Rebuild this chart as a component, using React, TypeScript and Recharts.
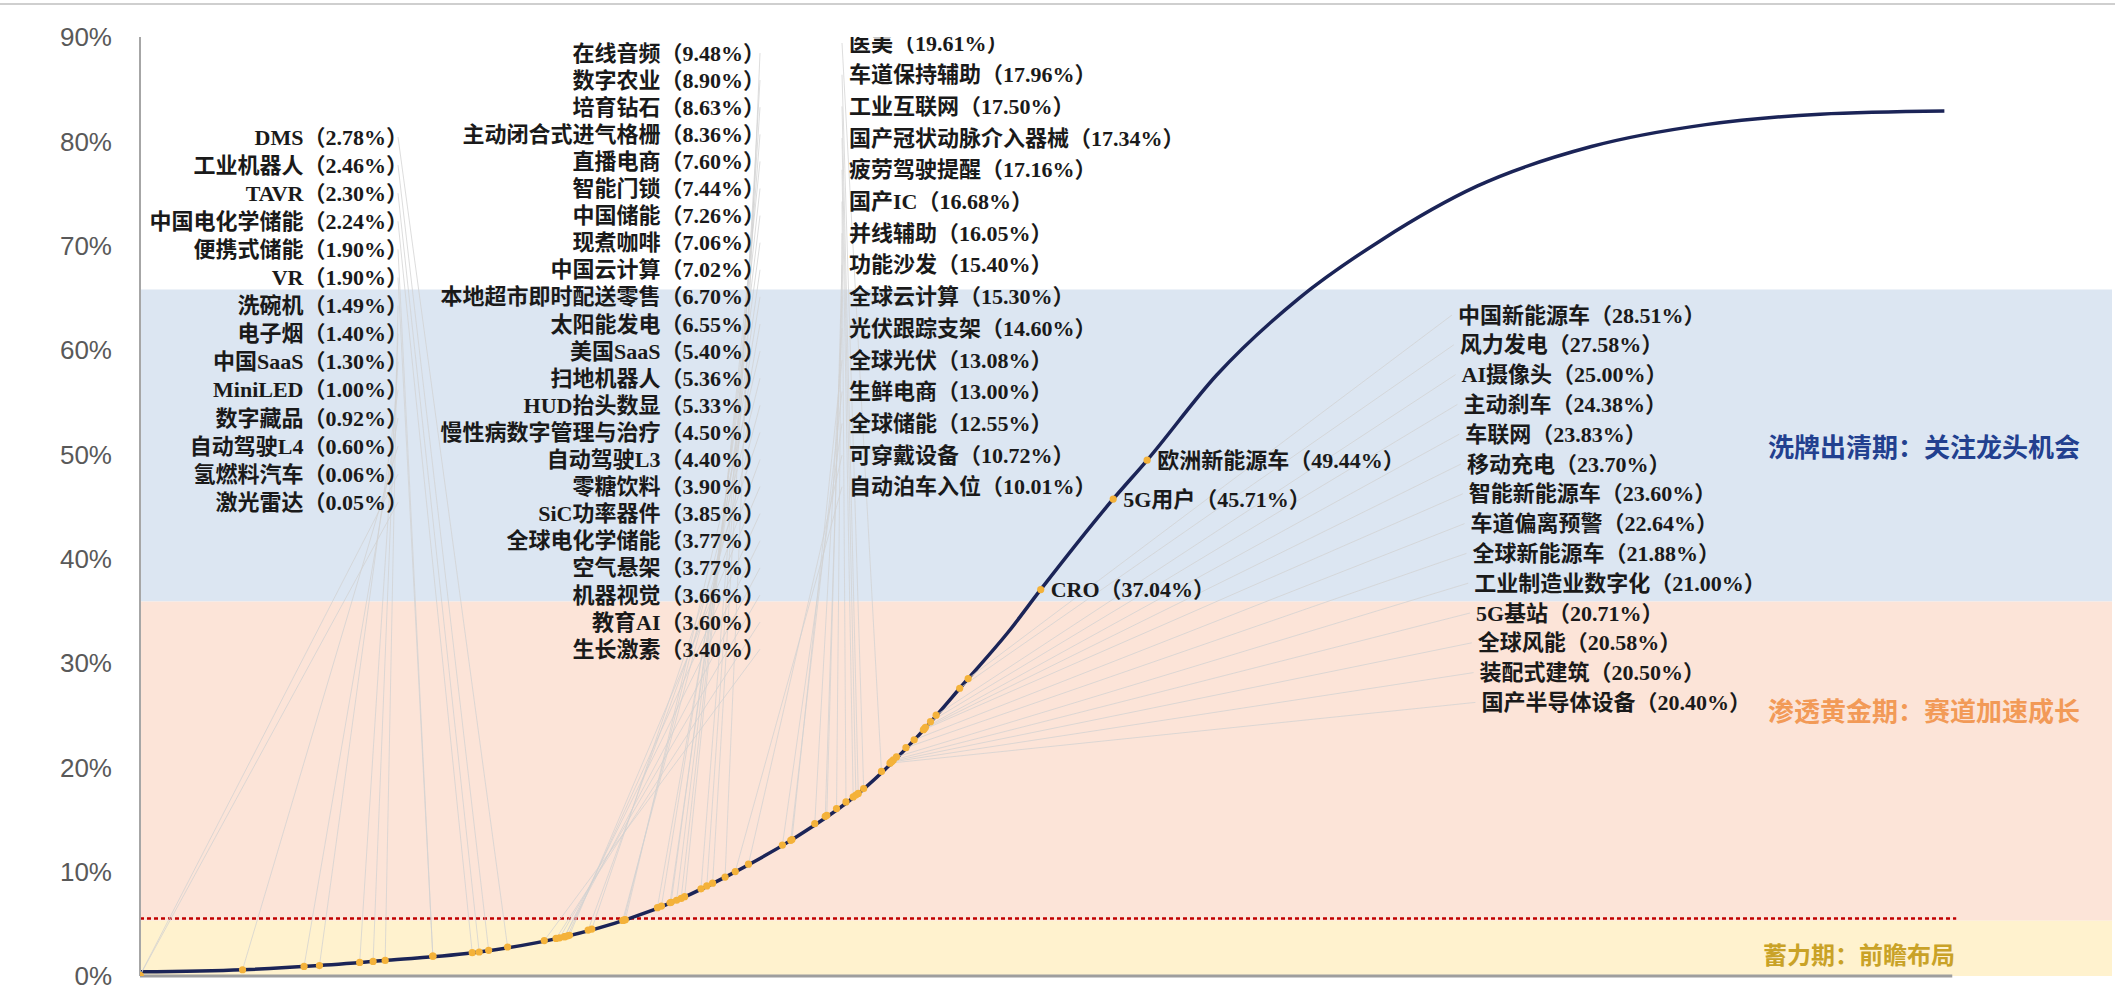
import React from 'react';
import { ComposedChart, Line, Scatter, XAxis, YAxis, ReferenceArea, ReferenceLine } from 'recharts';

// ---------- data ----------
const yTicks = [0, 10, 20, 30, 40, 50, 60, 70, 80, 90];

// S-curve (stage position 0-100, penetration %)
const curveT = [0, 5.2, 9.1, 12.5, 17.2, 21.4, 24.8, 27.4, 29.8, 33.0, 36.5, 39.4, 41.9, 44.0, 45.7, 49.3, 51.1, 54.6, 58.8, 63.0, 67.8, 73.6, 79.4, 85.2, 91.5];
const curveP = [0.4, 0.6, 1.0, 1.5, 2.3, 3.7, 5.5, 7.4, 9.6, 13.0, 17.6, 22.9, 28.3, 32.9, 37.1, 45.6, 49.5, 57.6, 65.0, 70.6, 75.7, 79.5, 81.6, 82.6, 82.9];

const groupANames = ['DMS', '工业机器人', 'TAVR', '中国电化学储能', '便携式储能', 'VR', '洗碗机', '电子烟', '中国SaaS', 'MiniLED', '数字藏品', '自动驾驶L4', '氢燃料汽车', '激光雷达'];
const groupAValues = [2.78, 2.46, 2.30, 2.24, 1.90, 1.90, 1.49, 1.40, 1.30, 1.00, 0.92, 0.60, 0.06, 0.05];

const groupBNames = ['在线音频', '数字农业', '培育钻石', '主动闭合式进气格栅', '直播电商', '智能门锁', '中国储能', '现煮咖啡', '中国云计算', '本地超市即时配送零售', '太阳能发电', '美国SaaS', '扫地机器人', 'HUD抬头数显', '慢性病数字管理与治疗', '自动驾驶L3', '零糖饮料', 'SiC功率器件', '全球电化学储能', '空气悬架', '机器视觉', '教育AI', '生长激素'];
const groupBValues = [9.48, 8.90, 8.63, 8.36, 7.60, 7.44, 7.26, 7.06, 7.02, 6.70, 6.55, 5.40, 5.36, 5.33, 4.50, 4.40, 3.90, 3.85, 3.77, 3.77, 3.66, 3.60, 3.40];

const groupCNames = ['医美', '车道保持辅助', '工业互联网', '国产冠状动脉介入器械', '疲劳驾驶提醒', '国产IC', '并线辅助', '功能沙发', '全球云计算', '光伏跟踪支架', '全球光伏', '生鲜电商', '全球储能', '可穿戴设备', '自动泊车入位'];
const groupCValues = [19.61, 17.96, 17.50, 17.34, 17.16, 16.68, 16.05, 15.40, 15.30, 14.60, 13.08, 13.00, 12.55, 10.72, 10.01];

const groupDNames = ['中国新能源车', '风力发电', 'AI摄像头', '主动刹车', '车联网', '移动充电', '智能新能源车', '车道偏离预警', '全球新能源车', '工业制造业数字化', '5G基站', '全球风能', '装配式建筑', '国产半导体设备'];
const groupDValues = [28.51, 27.58, 25.00, 24.38, 23.83, 23.70, 23.60, 22.64, 21.88, 21.00, 20.71, 20.58, 20.50, 20.40];

const groupENames = ['欧洲新能源车', '5G用户', 'CRO'];
const groupEValues = [49.44, 45.71, 37.04];

const bandLabels = ['洗牌出清期：关注龙头机会', '渗透黄金期：赛道加速成长', '蓄力期：前瞻布局'];

// ---------- layout ----------
const W = 2126;
const H = 992;
const LABEL_FONT = '"Liberation Serif", "Noto Sans CJK SC", serif';
const BAND_FONT = '"Noto Sans CJK SC", "Noto Sans", sans-serif';

const columns = [
  { names: groupANames, values: groupAValues, x: 408, y0: 137, dy: 28.1, anchor: 'end', slant: 0, lineX: 398 },
  { names: groupBNames, values: groupBValues, x: 765, y0: 53, dy: 27.1, anchor: 'end', slant: 0, lineX: 760 },
  { names: groupCNames, values: groupCValues, x: 849, y0: 43, dy: 31.7, anchor: 'start', slant: 0, lineX: 842 },
  { names: groupDNames, values: groupDValues, x: 1458, y0: 315, dy: 29.8, anchor: 'start', slant: 1.8, lineX: 1452 },
];

function stageAt(v: number): number {
  for (let i = 0; i < curveP.length - 1; i++) {
    if (v <= curveP[i + 1]) {
      const a = curveP[i];
      const b = curveP[i + 1];
      const f = b === a ? 0 : Math.max(0, (v - a) / (b - a));
      return curveT[i] + f * (curveT[i + 1] - curveT[i]);
    }
  }
  return curveT[curveT.length - 1];
}

const fmt = (n: string, v: number) => `${n}（${v.toFixed(2)}%）`;

const curve = curveT.map((t, i) => ({ x: t, y: curveP[i] }));

const points: any[] = [];
columns.forEach((c) => {
  c.names.forEach((n, i) => {
    const lx = c.x + c.slant * i;
    const ly = c.y0 + c.dy * i;
    points.push({
      x: stageAt(c.values[i]),
      y: c.values[i],
      text: fmt(n, c.values[i]),
      lx,
      ly,
      anchor: c.anchor,
      sx: c.lineX + c.slant * i,
      inline: false,
    });
  });
});
groupENames.forEach((n, i) => {
  points.push({ x: stageAt(groupEValues[i]), y: groupEValues[i], text: fmt(n, groupEValues[i]), inline: true });
});

const LeaderShape = (props: any) => {
  const { cx, cy, payload } = props;
  if (payload.inline) return <g />;
  return <line x1={payload.sx} y1={payload.ly} x2={cx} y2={cy} stroke="#D2D2D2" strokeOpacity={0.75} strokeWidth={1} />;
};

const DotShape = (props: any) => {
  const { cx, cy } = props;
  return <circle cx={cx} cy={cy} r={3.6} fill="#F4B23A" />;
};

const LabelShape = (props: any) => {
  const { cx, cy, payload } = props;
  const x = payload.inline ? cx + 10 : payload.lx;
  const y = payload.inline ? cy : payload.ly;
  return (
    <text
      x={x}
      y={y}
      textAnchor={payload.inline ? 'start' : payload.anchor}
      dominantBaseline="central"
      fontSize={22}
      fontWeight={700}
      fontFamily={LABEL_FONT}
      fill="#1A1A1A"
    >
      {payload.text}
    </text>
  );
};

export default function App() {
  return (
    <div style={{ position: 'absolute', left: 0, top: 0, width: W, height: H, background: '#FFFFFF' }}>
      <div style={{ position: 'absolute', left: 0, top: 3, width: 2115, height: 2, background: '#CFCFCF' }} />
      <ComposedChart width={W} height={H} margin={{ top: 37, right: 14, bottom: 16, left: 0 }}>
        <XAxis type="number" dataKey="x" domain={[0, 100]} hide allowDataOverflow />
        <YAxis
          type="number"
          dataKey="y"
          domain={[0, 90]}
          ticks={yTicks}
          width={140}
          tickLine={false}
          tickMargin={22}
          axisLine={{ stroke: '#A6A6A6', strokeWidth: 2 }}
          tickFormatter={(v: number) => `${v}%`}
          tick={{ fontSize: 26, fill: '#595959', fontFamily: '"Liberation Sans", sans-serif' }}
          allowDataOverflow
        />
        <ReferenceArea x1={0} x2={100} y1={35.9} y2={65.8} fill="#DCE6F2" fillOpacity={1} stroke="none" />
        <ReferenceArea x1={0} x2={100} y1={5.3} y2={35.9} fill="#FCE4D8" fillOpacity={1} stroke="none" />
        <ReferenceArea x1={0} x2={100} y1={0} y2={5.3} fill="#FFF2CE" fillOpacity={1} stroke="none" />
        <ReferenceLine
          segment={[{ x: 0, y: 5.5 }, { x: 92.1, y: 5.5 }]}
          stroke="#C00000"
          strokeWidth={2.5}
          strokeDasharray="4 3"
        />
        <ReferenceLine
          segment={[{ x: 0, y: 0 }, { x: 91.9, y: 0 }]}
          stroke="#9E9E9E"
          strokeWidth={3}
          ifOverflow="visible"
        />
        <Scatter data={points} dataKey="y" shape={LeaderShape} isAnimationActive={false} />
        <Line
          data={curve}
          dataKey="y"
          type="monotone"
          stroke="#1B2457"
          strokeWidth={3.5}
          dot={false}
          activeDot={false}
          isAnimationActive={false}
        />
        <Scatter data={points} dataKey="y" shape={DotShape} isAnimationActive={false} />
        <Scatter data={points} dataKey="y" shape={LabelShape} isAnimationActive={false} />
      </ComposedChart>
      <svg width={W} height={H} style={{ position: 'absolute', left: 0, top: 0, pointerEvents: 'none' }}>
        <text x={1768} y={445} dominantBaseline="central" fontSize={26} fontWeight={700} fontFamily={BAND_FONT} fill="#22408F">
          {bandLabels[0]}
        </text>
        <text x={1768} y={709} dominantBaseline="central" fontSize={26} fontWeight={700} fontFamily={BAND_FONT} fill="#F29A57">
          {bandLabels[1]}
        </text>
        <text x={1763} y={953} dominantBaseline="central" fontSize={24} fontWeight={700} fontFamily={BAND_FONT} fill="#C9A227">
          {bandLabels[2]}
        </text>
      </svg>
    </div>
  );
}
